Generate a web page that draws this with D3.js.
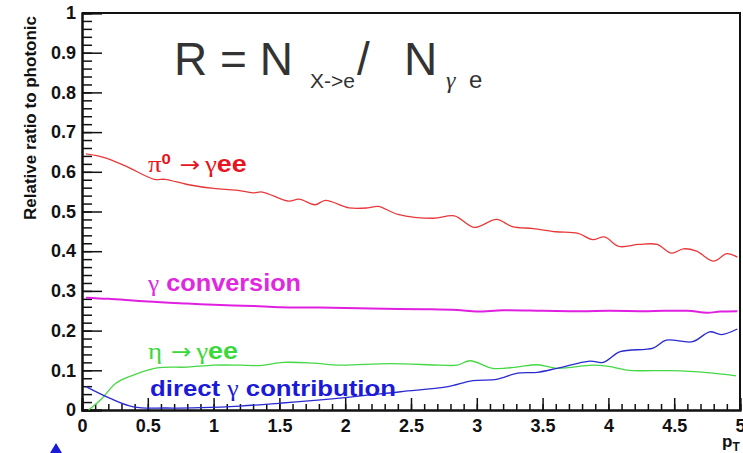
<!DOCTYPE html>
<html>
<head>
<meta charset="utf-8">
<script src="https://cdn.jsdelivr.net/npm/d3@7"></script>
<style>
  body { margin: 0; background: #fff; }
  svg { display: block; }
  .axis text { font-family: "Liberation Sans", Arial, sans-serif; font-weight: bold; font-size: 18px; fill: #111; }
  .axis path, .axis line { stroke: #111; }
  .lbl { font-family: "Liberation Sans", Arial, sans-serif; font-weight: bold; font-size: 23px; }
  .sym { font-family: "Liberation Serif", "DejaVu Serif", serif; font-weight: normal; }
  .arr { font-family: "DejaVu Sans", sans-serif; font-weight: normal; font-size: 22px; }
</style>
</head>
<body>
<svg id="chart" width="743" height="453"></svg>
<script>
// values: [pT, R]
var pi0Data = [[0.03,0.645],[0.17,0.636],[0.33,0.615],[0.55,0.581],[0.63,0.581],[0.8,0.568],[1.0,0.558],[1.17,0.554],
  [1.3,0.547],[1.37,0.549],[1.57,0.526],[1.65,0.531],[1.77,0.517],[1.85,0.528],[2.03,0.509],[2.17,0.509],[2.25,0.513],
  [2.4,0.493],[2.67,0.483],[2.83,0.489],[2.98,0.46],[3.15,0.48],[3.27,0.462],[3.43,0.457],[3.6,0.449],[3.77,0.445],
  [3.88,0.429],[3.97,0.436],[4.08,0.412],[4.23,0.417],[4.37,0.417],[4.48,0.395],[4.57,0.406],[4.67,0.40],[4.8,0.375],
  [4.9,0.394],[4.98,0.385]];
var convData = [[0.03,0.283],[0.2,0.280],[0.5,0.273],[0.8,0.268],[1.0,0.265],[1.3,0.262],[1.5,0.259],[1.8,0.258],
  [2.0,0.257],[2.3,0.255],[2.6,0.254],[2.85,0.252],[3.0,0.248],[3.2,0.251],[3.5,0.250],[3.8,0.249],[4.0,0.250],
  [4.3,0.249],[4.6,0.250],[4.75,0.245],[4.85,0.248],[4.98,0.249]];
var etaData = [[0.05,0.0],[0.14,0.025],[0.26,0.068],[0.39,0.088],[0.57,0.106],[0.8,0.108],[1.0,0.113],[1.2,0.113],
  [1.35,0.112],[1.53,0.12],[1.76,0.118],[1.96,0.113],[2.34,0.117],[2.72,0.113],[2.85,0.113],[2.95,0.124],[3.12,0.105],
  [3.3,0.108],[3.46,0.114],[3.61,0.105],[3.88,0.113],[4.0,0.11],[4.16,0.1],[4.47,0.099],[4.75,0.094],[4.97,0.086]];
var directData = [[0.03,0.059],[0.21,0.03],[0.39,0.008],[0.64,0.005],[0.9,0.006],[1.2,0.01],[1.5,0.017],[1.96,0.03],
  [2.42,0.046],[2.77,0.058],[2.97,0.074],[3.15,0.077],[3.31,0.093],[3.46,0.095],[3.61,0.105],[3.86,0.123],[3.96,0.12],
  [4.09,0.147],[4.34,0.156],[4.44,0.176],[4.64,0.172],[4.77,0.197],[4.86,0.19],[4.98,0.204]];

var xMajor = [0,0.5,1,1.5,2,2.5,3,3.5,4,4.5,5];
var yMajor = [0,0.1,0.2,0.3,0.4,0.5,0.6,0.7,0.8,0.9,1];
var xMinor = d3.range(0, 5.001, 0.1);
var yMinor = d3.range(0, 1.001, 0.02);

var svg = d3.select("#chart");
var x = d3.scaleLinear().domain([0,5]).range([82,740]);
var y = d3.scaleLinear().domain([0,1]).range([410,13]);

// frame top and right
svg.append("path")
  .attr("d", "M" + x(0) + "," + y(1) + "H" + x(5) + "V" + y(0))
  .attr("fill", "none").attr("stroke", "#111").attr("stroke-width", 2);

// y axis
var yg = svg.append("g").attr("class","axis").attr("transform","translate(" + x(0) + ",0)");
yg.append("g").call(d3.axisLeft(y).tickValues(yMinor).tickSize(-10).tickFormat(""));
yg.append("g").call(d3.axisLeft(y).tickValues(yMajor).tickSize(-20).tickPadding(6).tickFormat(d3.format("")));
yg.selectAll("path").attr("stroke-width", 2);
yg.selectAll("line").attr("stroke-width", 1.5);

// x axis
var xg = svg.append("g").attr("class","axis").attr("transform","translate(0," + y(0) + ")");
xg.append("g").call(d3.axisBottom(x).tickValues(xMinor).tickSize(-6).tickFormat(""));
xg.append("g").call(d3.axisBottom(x).tickValues(xMajor).tickSize(-12).tickPadding(5).tickFormat(d3.format("")));
xg.selectAll("path").attr("stroke-width", 2);
xg.selectAll("line").attr("stroke-width", 1.5);
xg.selectAll("text").attr("dy", "0.95em");

// axis titles
svg.append("text")
  .attr("transform", "translate(36,118) rotate(-90)")
  .attr("text-anchor", "middle")
  .style("font-family", "'Liberation Sans', Arial, sans-serif")
  .style("font-weight", "bold").style("font-size", "17px").style("fill", "#111")
  .text("Relative ratio to photonic");
var pt = svg.append("text").attr("x", 722).attr("y", 447)
  .style("font-family", "'Liberation Sans', Arial, sans-serif").style("font-weight", "bold").style("fill", "#111");
pt.append("tspan").style("font-size", "17px").text("p");
pt.append("tspan").attr("dy", 4).style("font-size", "12px").text("T");

// curves
var line = d3.line().x(d => x(d[0])).y(d => y(d[1])).curve(d3.curveCatmullRom);
var series = [
  {data: pi0Data, color: "#e8393a"},
  {data: convData, color: "#e020e0"},
  {data: etaData, color: "#45d845"},
  {data: directData, color: "#2a2ad0"}
];
svg.append("g").selectAll("path").data(series).enter().append("path")
  .attr("d", d => line(d.data))
  .attr("fill", "none")
  .attr("stroke", d => d.color)
  .attr("stroke-width", d => d.data === convData ? 2 : 1.3);

// curve labels
function label(px, py, color, sx, size, parts) {
  var t = svg.append("text").attr("class", "lbl")
    .attr("transform", "translate(" + px + "," + py + ") scale(" + sx + ",1)")
    .style("font-size", size + "px")
    .style("fill", color);
  parts.forEach(function(p) {
    var s = t.append("tspan").text(p.t);
    if (p.cls) s.attr("class", p.cls);
    if (p.sup) s.attr("dy", -8).style("font-size", "15px");
    if (p.down) s.attr("dy", 8);
    if (p.dx) s.attr("dx", p.dx);
  });
}
label(148, 172, "#e8141e", 1.12, 24, [{t:"π", cls:"sym"},{t:"0", sup:true},{t:"→", cls:"arr", down:true, dx:8},{t:"γ", cls:"sym", dx:4},{t:"ee"}]);
label(148, 291, "#e028e0", 1.1, 23, [{t:"γ", cls:"sym"},{t:" conversion"}]);
label(148, 359, "#3ad83a", 1.12, 24, [{t:"η", cls:"sym"},{t:"→", cls:"arr", dx:8},{t:"γ", cls:"sym", dx:4},{t:"ee"}]);
label(150, 396, "#1a1ad8", 1.12, 23, [{t:"direct "},{t:"γ", cls:"sym"},{t:" contribution"}]);

// formula
var f = svg.append("g").style("font-family", "'Liberation Sans', Arial, sans-serif").style("fill", "#333");
f.append("text").attr("x", 174).attr("y", 75).style("font-size", "46px").text("R = N");
f.append("text").attr("x", 310).attr("y", 88).style("font-size", "21px").text("X->e");
f.append("text").attr("x", 357).attr("y", 75).style("font-size", "46px").text("/");
f.append("text").attr("x", 404).attr("y", 75).style("font-size", "46px").text("N");
f.append("text").attr("x", 446).attr("y", 88).style("font-size", "24px")
  .style("font-family", "'Liberation Serif', serif").style("font-style", "italic").text("γ");
f.append("text").attr("x", 469).attr("y", 88).style("font-size", "24px").text("e");

// small arrow at bottom left
svg.append("path").attr("d", "M50,453 L56,443 L62,453 Z").attr("fill", "#1a1ad8");
</script>
</body>
</html>
